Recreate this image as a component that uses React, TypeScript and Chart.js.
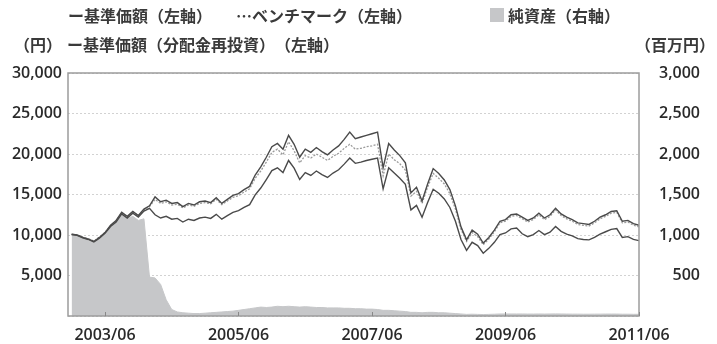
import React, { useEffect, useRef } from 'react';
import { Chart, registerables } from 'chart.js';

Chart.register(...registerables);

// month index 0 = 2002/12 ... 102 = 2011/06
const xTickValues = [6, 30, 54, 78, 102];
const xTickLabels = ['2003/06', '2005/06', '2007/06', '2009/06', '2011/06'];
const leftTicks = [0, 5000, 10000, 15000, 20000, 25000, 30000];
const rightTicks = [0, 500, 1000, 1500, 2000, 2500, 3000];

// 基準価額（分配金再投資）
const navReinvested = [
  10100, 10000, 9700, 9500, 9200, 9700, 10300, 11200, 11800, 12800,
  12300, 12900, 12400, 13200, 13600, 14700, 14100, 14300, 13900, 14000,
  13500, 13900, 13700, 14100, 14200, 14000, 14600, 13900, 14400, 14900,
  15100, 15600, 16000, 17400, 18400, 19600, 20900, 21300, 20600, 22300,
  21200, 19600, 20600, 20200, 20800, 20300, 19900, 20500, 21000, 21800,
  22700, 21900, 22100, 22300, 22500, 22700, 18300, 21300, 20500, 19800,
  18900, 15200, 15900, 14200, 16300, 18200, 17600, 16800, 15600, 13600,
  11000, 9400, 10600, 10100, 9000, 9700, 10600, 11700, 11900, 12500,
  12600, 12200, 11800, 12100, 12700, 12100, 12500, 13300, 12600, 12200,
  11900, 11500, 11400, 11300, 11700, 12200, 12500, 12900, 13000, 11700,
  11800, 11400, 11200,
];

// 基準価額
const nav = [
  10050, 9950, 9650, 9450, 9150, 9600, 10200, 11050, 11600, 12600,
  12100, 12700, 12200, 12950, 13300, 12500, 12100, 12300, 11950, 12050,
  11600, 11950, 11800, 12100, 12200, 12050, 12550, 11950, 12400, 12800,
  13000, 13400, 13750, 14950, 15800, 16850, 17950, 18300, 17700, 19200,
  18250, 16850, 17700, 17350, 17900, 17450, 17100, 17650, 18050, 18750,
  19500, 18850, 19000, 19200, 19350, 19500, 15700, 18300, 17650, 17000,
  16250, 13100, 13650, 12200, 14000, 15650, 15150, 14450, 13400, 11700,
  9450, 8100, 9100, 8700, 7750, 8350, 9100, 10050, 10250, 10750,
  10850, 10150, 9800, 10050, 10550, 10050, 10350, 11050, 10450, 10100,
  9900, 9550, 9450, 9400, 9700, 10100, 10400, 10700, 10800, 9700,
  9800, 9450, 9300,
];

// ベンチマーク
const benchmark = [
  10100, 10000, 9750, 9550, 9250, 9750, 10300, 11150, 11750, 12700,
  12250, 12850, 12400, 13100, 13500, 14400, 13900, 14100, 13700, 13800,
  13350, 13700, 13550, 13900, 14000, 13850, 14400, 13750, 14200, 14650,
  14850, 15300, 15700, 17000, 17900, 19000, 20200, 20600, 19900, 21500,
  20400, 18900, 19800, 19500, 20000, 19600, 19200, 19700, 20100, 20700,
  21200, 20600, 20700, 20900, 21000, 21200, 17300, 20000, 19300, 18800,
  18000, 14800, 15400, 13900, 15900, 17600, 17000, 16300, 15100, 13200,
  10700, 9200, 10300, 9800, 8800, 9500, 10400, 11500, 11700, 12300,
  12400, 12000, 11600, 11900, 12500, 11900, 12300, 13100, 12400, 12000,
  11700, 11300, 11200, 11100, 11500, 12000, 12300, 12700, 12800, 11500,
  11600, 11200, 11000,
];

// 純資産（百万円）
const netAssets = [
  1000, 990, 960, 930, 900, 950, 1020, 1100, 1180, 1280,
  1200, 1230, 1180, 1200, 480, 470, 390, 200, 80, 50,
  40, 35, 30, 30, 35, 40, 45, 50, 55, 60,
  70, 80, 90, 100, 110, 105, 110, 120, 115, 120,
  115, 110, 115, 110, 105, 105, 100, 100, 100, 95,
  95, 90, 90, 85, 85, 80, 70, 70, 65, 60,
  55, 45, 45, 40, 45, 45, 40, 40, 35, 30,
  25, 20, 22, 20, 18, 20, 22, 25, 25, 25,
  25, 25, 24, 24, 25, 24, 25, 26, 25, 24,
  23, 23, 22, 22, 23, 23, 24, 24, 24, 22,
  22, 21, 21,
];

const TEXT = '#2a2a2a';
const TICK_FONT = { family: "'Open Sans', 'Noto Sans', sans-serif", size: 16, weight: '600' };
const CJK = "'Noto Sans CJK JP', 'Noto Sans', sans-serif";

const toXY = (arr: number[]) => arr.map((v, i) => ({ x: i, y: v }));
const fmt = (v: number) => (v === 0 ? '' : v.toLocaleString('en-US'));

export default function App() {
  const ref = useRef<HTMLCanvasElement>(null);

  useEffect(() => {
    const framePlugin = {
      id: 'frame',
      afterDatasetsDraw(chart: any) {
        const { ctx, chartArea } = chart;
        const xs = chart.scales.x;
        ctx.save();
        ctx.strokeStyle = '#9c9c9c';
        ctx.lineWidth = 1.5;
        ctx.strokeRect(chartArea.left, chartArea.top, chartArea.right - chartArea.left, chartArea.bottom - chartArea.top);
        ctx.lineWidth = 1;
        ctx.strokeStyle = '#888';
        xTickValues.forEach((v) => {
          const px = Math.round(xs.getPixelForValue(v)) + 0.5;
          ctx.beginPath();
          ctx.moveTo(px, chartArea.bottom);
          ctx.lineTo(px, chartArea.bottom - 4);
          ctx.stroke();
        });
        ctx.restore();
      },
    };

    const chart = new Chart(ref.current as HTMLCanvasElement, {
      type: 'line',
      data: {
        datasets: [
          {
            label: '基準価額（分配金再投資）',
            data: toXY(navReinvested),
            yAxisID: 'y',
            borderColor: '#4a4a4a',
            borderWidth: 1.4,
            pointRadius: 0,
            fill: false,
            order: 1,
          },
          {
            label: '基準価額',
            data: toXY(nav),
            yAxisID: 'y',
            borderColor: '#4a4a4a',
            borderWidth: 1.4,
            pointRadius: 0,
            fill: false,
            order: 2,
          },
          {
            label: 'ベンチマーク',
            data: toXY(benchmark),
            yAxisID: 'y',
            borderColor: '#9a9a9a',
            borderWidth: 1.3,
            borderDash: [2, 1.5],
            pointRadius: 0,
            fill: false,
            order: 3,
          },
          {
            label: '純資産',
            data: toXY(netAssets),
            yAxisID: 'y1',
            borderColor: '#c6c7c9',
            backgroundColor: '#c6c7c9',
            borderWidth: 1,
            pointRadius: 0,
            fill: 'origin',
            order: 10,
          },
        ],
      },
      options: {
        animation: false,
        responsive: false,
        maintainAspectRatio: false,
        layout: { padding: { top: 73, left: 0, right: 17, bottom: 0 } },
        plugins: { legend: { display: false }, tooltip: { enabled: false } },
        scales: {
          x: {
            type: 'linear',
            min: -0.65,
            max: 102,
            afterBuildTicks: (s: any) => {
              s.ticks = xTickValues.map((v) => ({ value: v }));
            },
            afterFit: (s: any) => {
              s.height = 28;
            },
            ticks: {
              callback: (v: any) => {
                const i = xTickValues.indexOf(v);
                return i >= 0 ? xTickLabels[i] : '';
              },
              autoSkip: false,
              maxRotation: 0,
              padding: 10,
              color: TEXT,
              font: TICK_FONT,
            },
            grid: { display: false, drawTicks: false },
            border: { display: false },
          },
          y: {
            position: 'left',
            min: 0,
            max: 30000,
            afterBuildTicks: (s: any) => {
              s.ticks = leftTicks.map((v) => ({ value: v }));
            },
            afterFit: (s: any) => {
              s.width = 68;
            },
            ticks: { callback: (v: any) => fmt(v), padding: 6, color: TEXT, font: TICK_FONT },
            grid: { color: '#d2d2d2', lineWidth: 1, drawTicks: false },
            border: { display: false, dash: [2, 2] },
          },
          y1: {
            position: 'right',
            min: 0,
            max: 3000,
            afterBuildTicks: (s: any) => {
              s.ticks = rightTicks.map((v) => ({ value: v }));
            },
            afterFit: (s: any) => {
              s.width = 61;
            },
            ticks: { callback: (v: any) => fmt(v), crossAlign: 'far', padding: 6, color: TEXT, font: TICK_FONT },
            grid: { drawOnChartArea: false, drawTicks: false },
            border: { display: false },
          },
        },
      } as any,
      plugins: [framePlugin],
    });
    return () => chart.destroy();
  }, []);

  const legendText: React.CSSProperties = {
    position: 'absolute',
    fontFamily: CJK,
    fontSize: 16,
    fontWeight: 700,
    color: '#3a3a3a',
    lineHeight: '20px',
    whiteSpace: 'nowrap',
  };

  return (
    <div style={{ position: 'absolute', left: 0, top: 0, width: 717, height: 344, background: '#fff', overflow: 'hidden' }}>
      <canvas ref={ref} width={717} height={344} style={{ position: 'absolute', left: 0, top: 0, display: 'block' }} />
      <span style={{ ...legendText, left: 68, top: 5 }}>ー基準価額（左軸）</span>
      <span style={{ ...legendText, left: 236, top: 5 }}>…ベンチマーク（左軸）</span>
      <div style={{ position: 'absolute', left: 490, top: 8, width: 14, height: 14, background: '#c6c7c9' }} />
      <span style={{ ...legendText, left: 508, top: 5 }}>純資産（右軸）</span>
      <span style={{ ...legendText, left: 14, top: 34 }}>（円）</span>
      <span style={{ ...legendText, left: 67, top: 34 }}>ー基準価額（分配金再投資）　（左軸）</span>
      <span style={{ ...legendText, right: 2, top: 34 }}>（百万円）</span>
    </div>
  );
}
